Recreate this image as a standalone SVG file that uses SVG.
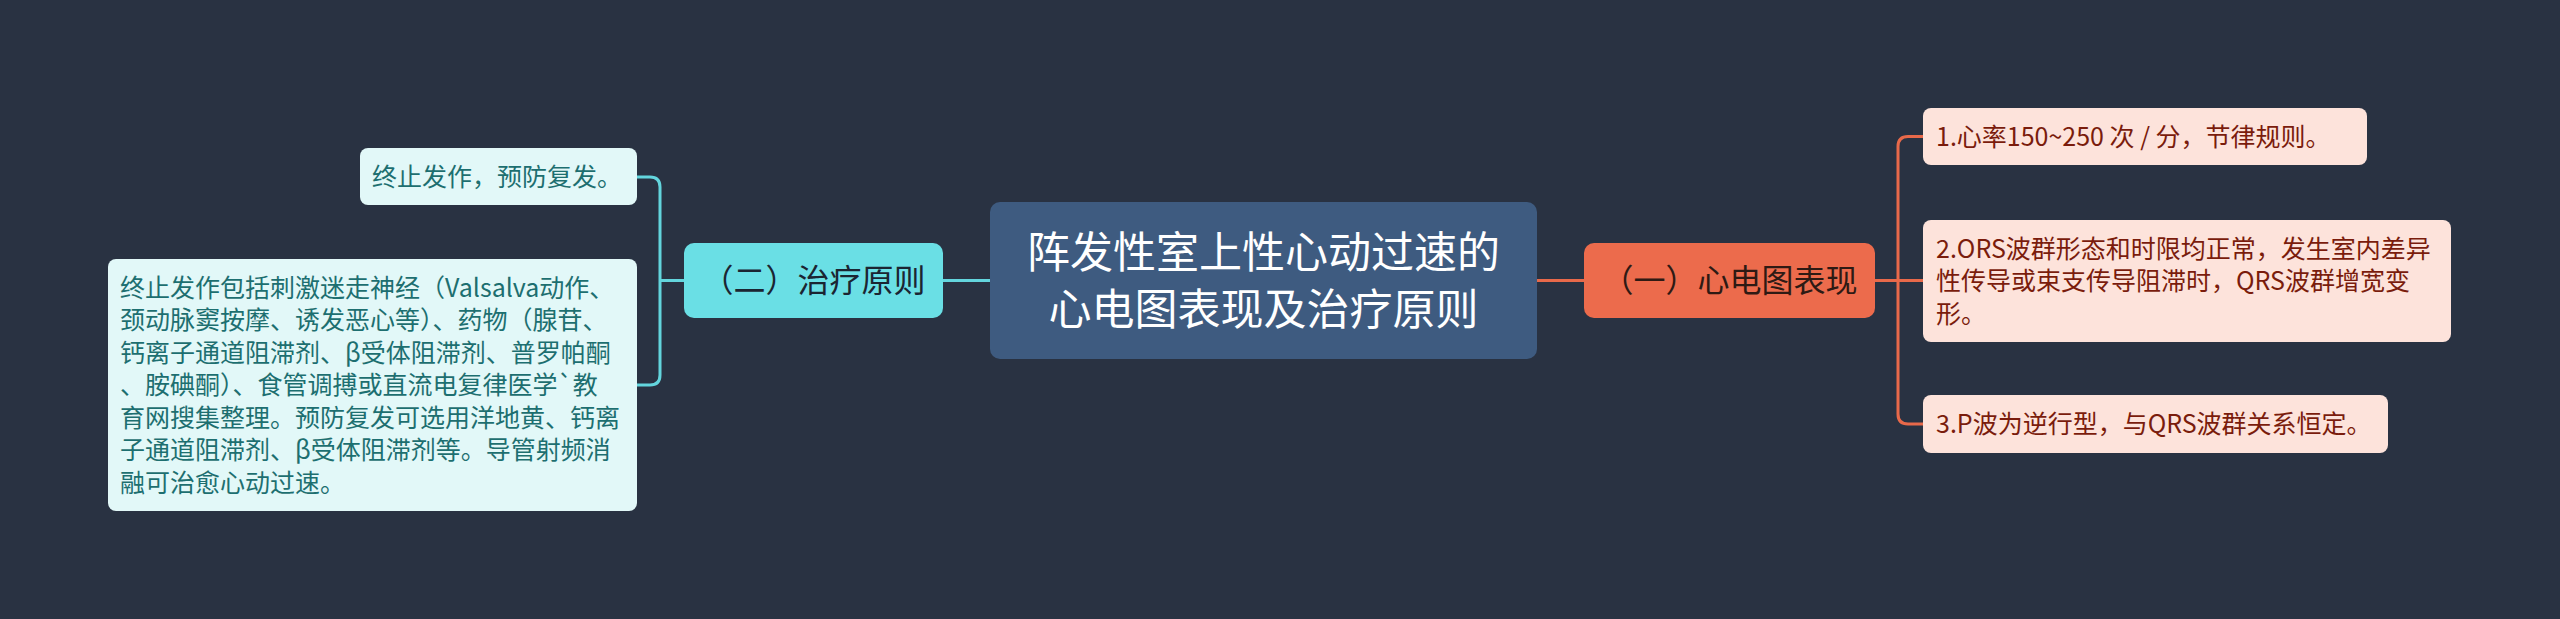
<svg xmlns="http://www.w3.org/2000/svg" width="2560" height="619" viewBox="0 0 2560 619">
<defs>
<style>
text{font-family:"Noto Sans CJK SC","Noto Sans",sans-serif;}
.bg{fill:#293242;}
.lc{fill:none;stroke:#63d5dd;stroke-width:3;}
.rc{fill:none;stroke:#e8694a;stroke-width:3;}
.root{fill:#3e5b80;}
.root-t{fill:#ffffff;font-size:43px;text-anchor:middle;}
.lmain{fill:#6adfe5;}
.lmain-t{fill:#1b2532;font-size:32px;text-anchor:middle;}
.rmain{fill:#ec6b4c;}
.rmain-t{fill:#2e1a14;font-size:32px;text-anchor:middle;}
.lleaf{fill:#e2f8f8;}
.lleaf-t{fill:#1d6f70;font-size:25px;}
.rleaf{fill:#fde3db;}
.rleaf-t{fill:#7a1c0c;font-size:25px;}
</style>
</defs>
<rect class="bg" x="0" y="0" width="2560" height="619"/>
<g id="connectors">
<path class="lc" d="M943 280.5H990"/>
<path class="lc" d="M684 280.5H660"/>
<path class="lc" d="M637 177H650Q660 177 660 187V375Q660 385 650 385H637"/>
<path class="rc" d="M1537 280.5H1585"/>
<path class="rc" d="M1875 280.5H1923"/>
<path class="rc" d="M1923 136.5H1908Q1898 136.5 1898 146.5V414Q1898 424 1908 424H1923"/>
</g>
<g id="root">
<rect class="root" x="990" y="202" width="547" height="157" rx="10"/>
<text class="root-t" x="1263.5" y="267.5">阵发性室上性心动过速的</text>
<text class="root-t" x="1263.5" y="324.5">心电图表现及治疗原则</text>
</g>
<g id="node-ecg">
<rect class="rmain" x="1584" y="243" width="291" height="75" rx="10"/>
<text class="rmain-t" x="1729.5" y="291.5">（一）心电图表现</text>
</g>
<g id="node-ecg-1">
<rect class="rleaf" x="1923" y="108" width="444" height="57" rx="8"/>
<text class="rleaf-t" x="1936" y="145.5">1.心率150~250 次 / 分，节律规则。</text>
</g>
<g id="node-ecg-2">
<rect class="rleaf" x="1923" y="220" width="528" height="122" rx="8"/>
<text class="rleaf-t" x="1936" y="257.5">2.ORS波群形态和时限均正常，发生室内差异</text>
<text class="rleaf-t" x="1936" y="290">性传导或束支传导阻滞时，QRS波群增宽变</text>
<text class="rleaf-t" x="1936" y="322.5">形。</text>
</g>
<g id="node-ecg-3">
<rect class="rleaf" x="1923" y="395" width="465" height="58" rx="8"/>
<text class="rleaf-t" x="1936" y="433">3.P波为逆行型，与QRS波群关系恒定。</text>
</g>
<g id="node-treat">
<rect class="lmain" x="684" y="243" width="259" height="75" rx="10"/>
<text class="lmain-t" x="813.5" y="291.5">（二）治疗原则</text>
</g>
<g id="node-treat-1">
<rect class="lleaf" x="360" y="148" width="277" height="57" rx="8"/>
<text class="lleaf-t" x="372" y="185.5">终止发作，预防复发。</text>
</g>
<g id="node-treat-2">
<rect class="lleaf" x="108" y="259" width="529" height="252" rx="8"/>
<text class="lleaf-t" x="120" y="296.5">终止发作包括刺激迷走神经（Valsalva动作、</text>
<text class="lleaf-t" x="120" y="329">颈动脉窦按摩、诱发恶心等）、药物（腺苷、</text>
<text class="lleaf-t" x="120" y="361.5">钙离子通道阻滞剂、β受体阻滞剂、普罗帕酮</text>
<text class="lleaf-t" x="120" y="394">、胺碘酮）、食管调搏或直流电复律医学`教</text>
<text class="lleaf-t" x="120" y="426.5">育网搜集整理。预防复发可选用洋地黄、钙离</text>
<text class="lleaf-t" x="120" y="459">子通道阻滞剂、β受体阻滞剂等。导管射频消</text>
<text class="lleaf-t" x="120" y="491.5">融可治愈心动过速。</text>
</g>
</svg>
